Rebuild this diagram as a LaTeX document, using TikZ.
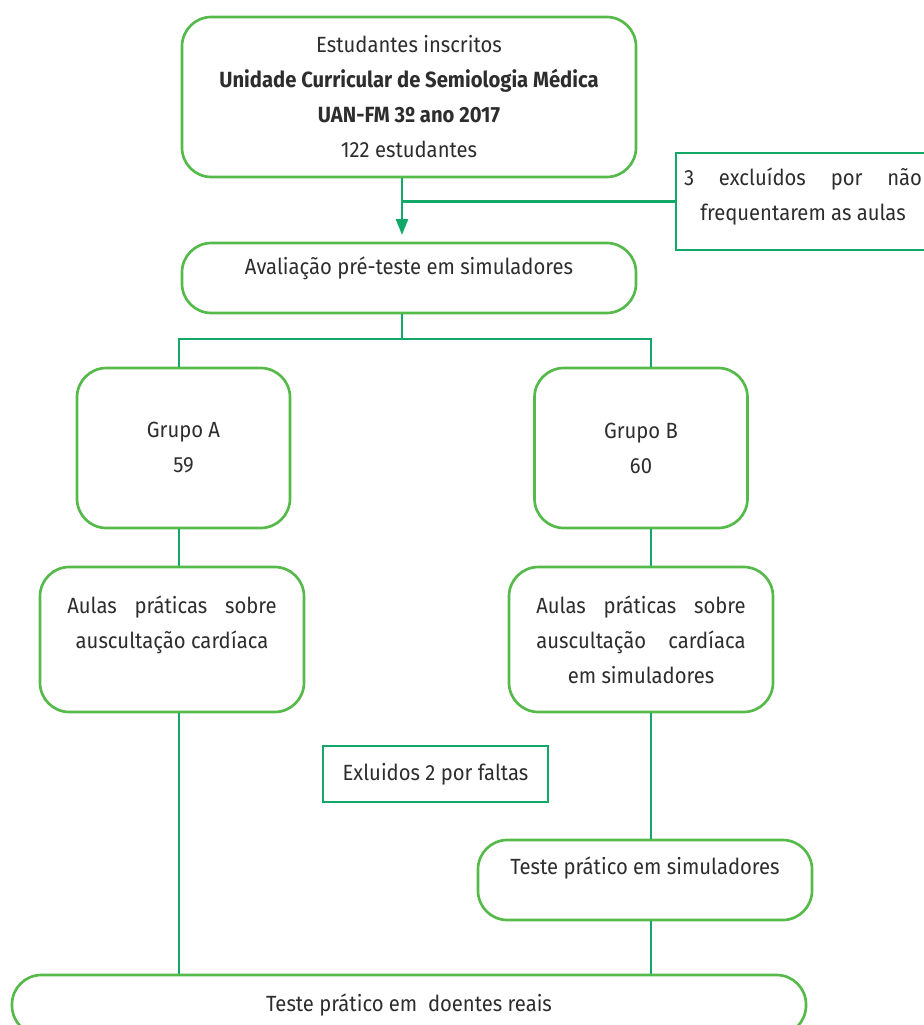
\documentclass[tikz,border=0pt]{standalone}
\usepackage{fontspec}
\setmainfont[FakeStretch=0.92]{Fira Sans}
\usepackage{tikz}
\usetikzlibrary{arrows.meta}
\definecolor{boxgreen}{RGB}{86,186,74}
\definecolor{linegreen}{RGB}{18,168,104}
\definecolor{txtgray}{RGB}{45,45,45}

\begin{document}
\begin{tikzpicture}[x=0.75pt,y=-0.75pt,
    every node/.style={font=\fontsize{16.5}{26.25}\selectfont,text=txtgray,align=center},
    rbox/.style={draw=boxgreen,line width=2pt,rounded corners=22pt,fill=white,inner sep=0pt},
    sbox/.style={draw=linegreen,line width=2pt,fill=white,inner sep=0pt},
    conn/.style={draw=linegreen,line width=2pt}]
    \useasboundingbox (0,0) rectangle (924,1025);
    % caixas
    \node[rbox,minimum width=340.5pt,minimum height=120pt] (inscr) at (409,97)
      {Estudantes inscritos\\ \textbf{Unidade Curricular de Semiologia Médica}\\
       \textbf{UAN-FM 3º ano 2017}\\ 122 estudantes};
    \node[sbox,minimum width=190.5pt,minimum height=72.75pt] (excl) at (803,201.5)
      {\hbox to 178.5pt{3\hfill excluídos\hfill por\hfill não}\\ frequentarem as aulas\\[-15pt]};
    \node[rbox,minimum width=340.5pt,minimum height=52.5pt] (aval) at (409,278)
      {Avaliação pré-teste em simuladores\\[-8pt]};
    \node[rbox,minimum width=159.75pt,minimum height=120pt] (grpA) at (183.5,448)
      {Grupo A\\ 59};
    \node[rbox,minimum width=159.75pt,minimum height=120pt] (grpB) at (641,448)
      {Grupo B\\ 60};
    \node[rbox,minimum width=198pt,minimum height=108.75pt] (aulasA) at (172,639.5)
      {\hbox to 157pt{Aulas\hfill práticas\hfill sobre}\\ auscultação cardíaca\\ \mbox{}};
    \node[rbox,minimum width=198pt,minimum height=108.75pt] (aulasB) at (641,639.5)
      {\hbox to 157pt{Aulas\hfill práticas\hfill sobre}\\
       \hbox to 157pt{auscultação\hfill cardíaca}\\ em simuladores};
    \node[sbox,minimum width=168.75pt,minimum height=42pt] (faltas) at (435.5,774)
      {Exluidos 2 por faltas};
    \node[rbox,minimum width=250.5pt,minimum height=60pt] (tsim) at (645,880)
      {Teste prático em simuladores\\[-5pt]};
    \node[rbox,minimum width=595.5pt,minimum height=45pt] (final) at (409,1005)
      {Teste prático em\ \ doentes reais};
    % ligacoes
    \coordinate (mid) at (402,0);
    \coordinate (colA) at (179,0);
    \coordinate (colB) at (651,0);
    \coordinate (split) at (402,339);
    \draw[conn,-{Triangle[length=12pt,width=9pt]},shorten >=5pt] (inscr.south -| mid) to (aval.north -| mid);
    \draw[conn] (excl.west) to (excl.west -| mid);
    \draw[conn] (aval.south -| mid) -- (split) -| (grpA.north -| colA);
    \draw[conn] (split) -| (grpB.north -| colB);
    \draw[conn] (grpA.south -| colA) to (aulasA.north -| colA);
    \draw[conn] (grpB.south -| colB) to (aulasB.north -| colB);
    \draw[conn] (aulasA.south -| colA) to (final.north -| colA);
    \draw[conn] (aulasB.south -| colB) to (tsim.north -| colB);
    \draw[conn] (tsim.south -| colB) to (final.north -| colB);
  \end{tikzpicture}
\end{document}
